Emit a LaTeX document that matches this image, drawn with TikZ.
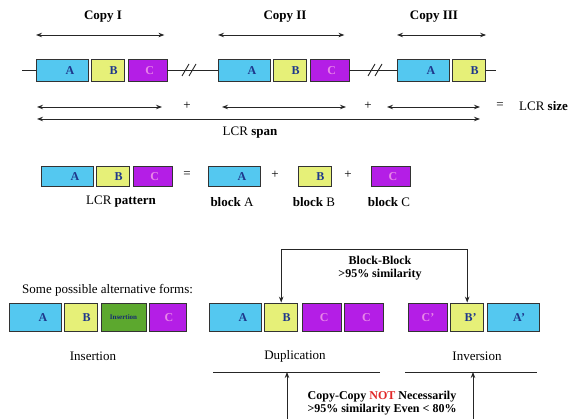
\documentclass[tikz,border=0pt]{standalone}
\usepackage{fontspec}
\setmainfont{Liberation Serif}
\usepackage{xcolor}
\usepackage{tikz}
\usetikzlibrary{positioning,arrows.meta}
\definecolor{cyanbox}{RGB}{84,200,240}
\definecolor{yelbox}{RGB}{230,240,120}
\definecolor{purbox}{RGB}{180,30,230}
\definecolor{grnbox}{RGB}{92,168,46}
\definecolor{lettA}{RGB}{30,55,140}
\definecolor{lettC}{RGB}{232,135,232}
\definecolor{notred}{RGB}{225,40,40}
\begin{document}
\begin{tikzpicture}[
    x=1pt,y=-1pt,
    node distance=2.5pt,
    blk/.style={draw=black!80,line width=0.8pt,minimum height=22pt,inner ysep=0pt,text height=8.5pt,text depth=0pt,align=right,font=\fontsize{12}{12}\selectfont\bfseries},
    bA/.style={blk,fill=cyanbox,text=lettA,text width=24pt,inner xsep=14pt},
    bB/.style={blk,fill=yelbox,text=lettA,text width=19pt,inner xsep=7pt},
    bC/.style={blk,fill=purbox,text=lettC,text width=13pt,inner xsep=13pt},
    bI/.style={draw=black!80,line width=0.8pt,fill=grnbox,text=lettA!80!black,minimum width=45pt,minimum height=28pt,inner sep=0pt,font=\fontsize{7}{7}\selectfont\bfseries},
    mid/.style={minimum height=20pt},
    tall/.style={minimum height=28pt},
    lbl/.style={font=\fontsize{13}{14}\selectfont},
    hd/.style={font=\fontsize{13}{14}\selectfont\bfseries},
    note/.style={align=center,font=\fontsize{12}{13}\selectfont\bfseries},
    dim/.style={{Stealth[length=6pt,width=4.5pt]}-{Stealth[length=6pt,width=4.5pt]},line width=0.9pt,draw=black!85},
    uparr/.style={-{Stealth[length=6pt,width=4.5pt]},line width=0.9pt,draw=black!85},
    seq/.style={line width=0.9pt,draw=black!85}
  ]
    \useasboundingbox (0,0) rectangle (571,419);

    % three copies
    \node[hd] (cp1) at (103,17) {Copy I};
    \node[hd] (cp2) at (285,17) {Copy II};
    \node[hd] (cp3) at (434,17) {Copy III};

    \node[bA,anchor=west] (A1) at (36,70) {A};
    \node[bB,right=of A1] (B1) {B};
    \node[bC,right=of B1] (C1) {C};
    \node[bA,anchor=west] (A2) at (218,70) {A};
    \node[bB,right=of A2] (B2) {B};
    \node[bC,right=of B2] (C2) {C};
    \node[bA,anchor=west] (A3) at (397,70) {A};
    \node[bB,right=of A3] (B3) {B};

    \coordinate (lstart) at (22,70);
    \coordinate (lend) at (496,70);
    \draw[seq] (lstart) -- (A1);
    \draw[seq] (C1) -- (A2);
    \draw[seq] (C2) -- (A3);
    \draw[seq] (B3) -- (lend);
    \foreach \x in {182,189,368,375}
      \draw[seq] (\x,76) -- (\x+7,64);

    \draw[dim] ([yshift=35pt]A1.west) -- ([yshift=35pt,xshift=-3pt]C1.east);
    \draw[dim] ([yshift=35pt]A2.west) -- ([yshift=35pt,xshift=-5pt]C2.east);
    \draw[dim] ([yshift=35pt]A3.west) -- ([yshift=35pt]B3.east);

    % sizes
    \coordinate (s1a) at (37,107);  \coordinate (s1b) at (162,107);
    \coordinate (s2a) at (222,107); \coordinate (s2b) at (346,107);
    \coordinate (s3a) at (387,107); \coordinate (s3b) at (480,107);
    \coordinate (spa) at (37,119);  \coordinate (spb) at (480,119);
    \draw[dim] (s1a) -- (s1b);
    \draw[dim] (s2a) -- (s2b);
    \draw[dim] (s3a) -- (s3b);
    \draw[dim] (spa) -- (spb);
    \node[lbl] (pl1) at (187,106) {+};
    \node[lbl] (pl2) at (368,106) {+};
    \node[lbl] (eq1) at (500,106) {=};
    \node[lbl,anchor=west,inner sep=0pt] (lsize) at (519,106) {LCR \textbf{size}};
    \node[lbl] (lspan) at (250,133) {LCR \textbf{span}};

    % pattern and blocks
    \node[bA,mid,anchor=west] (pA) at (41,176) {A};
    \node[bB,mid,right=of pA] (pB) {B};
    \node[bC,mid,right=of pB] (pC) {C};
    \node[lbl] (eq2) at (187,175) {=};
    \node[bA,mid,anchor=west] (kA) at (208,176) {A};
    \node[lbl] (pl3) at (275,175) {+};
    \node[bB,mid,anchor=west] (kB) at (298,176) {B};
    \node[lbl] (pl4) at (348,175) {+};
    \node[bC,mid,anchor=west] (kC) at (371,176) {C};
    \node[lbl] (lpat) at (121,202) {LCR \textbf{pattern}};
    \node[lbl] (lbA) at (232,202) {\textbf{block} A};
    \node[lbl] (lbB) at (314,202) {\textbf{block} B};
    \node[lbl] (lbC) at (389,202) {\textbf{block} C};

    % alternative forms
    \node[lbl,anchor=west,inner sep=0pt] (alt) at (22,290) {Some possible alternative forms:};
    \node[bA,tall,anchor=west] (iA) at (9,317) {A};
    \node[bB,tall,right=of iA] (iB) {B};
    \node[bI,right=of iB] (iI) {Insertion};
    \node[bC,tall,right=of iI,text width=11pt] (iC) {C};

    \node[bA,tall,anchor=west] (dA) at (209,317) {A};
    \node[bB,tall,right=of dA] (dB) {B};
    \node[bC,tall,right=of dB,xshift=1.5pt] (dC1) {C};
    \node[bC,tall,right=of dC1] (dC2) {C};

    \node[bC,tall,anchor=west] (vC) at (408,317) {C'};
    \node[bB,tall,right=of vC] (vB) {B'};
    \node[bA,tall,right=of vB] (vA) {A'};

    \node[lbl] (lins) at (93,356) {Insertion};
    \node[lbl] (ldup) at (295,356) {Duplication};
    \node[lbl] (linv) at (477,356) {Inversion};

    \draw[dim] (dB.north) -- ++(0,-53) -| (vB.north);
    \node[note] (bbtxt) at (380,268) {Block-Block\\>95\% similarity};

    \coordinate (du1) at (213,372); \coordinate (du2) at (380,372);
    \coordinate (in1) at (405,372); \coordinate (in2) at (537,372);
    \draw[seq] (du1) -- (du2);
    \draw[seq] (in1) -- (in2);
    \coordinate (ub1) at (287,419);
    \coordinate (ub2) at (473,419);
    \draw[uparr] (ub1) -- (ub1 |- du1);
    \draw[uparr] (ub2) -- (ub2 |- in1);
    \node[note] (cctxt) at (382,403) {Copy-Copy \textcolor{notred}{NOT} Necessarily\\>95\% similarity Even < 80\%};
  \end{tikzpicture}
\end{document}
